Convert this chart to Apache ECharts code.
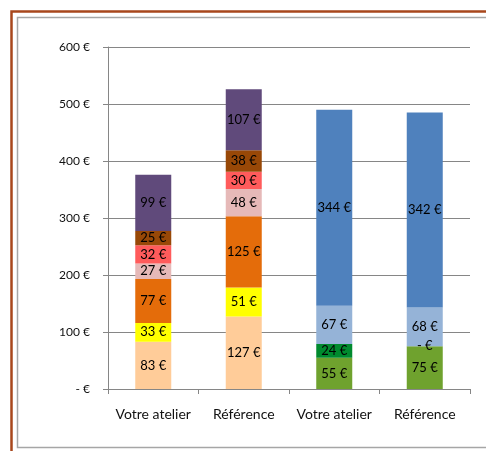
<!DOCTYPE html>
<html>
<head>
<meta charset="utf-8">
<script src="https://cdn.jsdelivr.net/npm/echarts@6/dist/echarts.min.js"></script>
<style>
  html, body { margin: 0; padding: 0; background: #fff; }
  #main { width: 486px; height: 451px; }
</style>
</head>
<body>
<div id="main"></div>
<script>
// categories
var categories = ['Votre atelier', 'Référence', 'Votre atelier', 'Référence'];
var yTicks = [0, 100, 200, 300, 400, 500, 600];

// left group (two first bars), bottom to top
var leftSeries = [
  [83, 127],
  [33, 51],
  [77, 125],
  [27, 48],
  [32, 30],
  [25, 38],
  [99, 107]
];
var leftColors = ['#FFCC99', '#FFFF00', '#E46C0A', '#E6B9B8', '#FF5B5B', '#984807', '#604A7B'];

// right group (two last bars), bottom to top
var rightSeries = [
  [55, 75],
  [24, 0],
  [67, 68],
  [344, 342]
];
var rightColors = ['#6FA22E', '#008A2E', '#95B3D7', '#4F81BD'];

var fontFam = 'Lato, "Open Sans", sans-serif';

function euro(v) {
  return v === 0 ? '- €' : v + ' €';
}

var series = [];
leftSeries.forEach(function (vals, i) {
  series.push({
    type: 'bar', stack: 'total', barWidth: 36,
    data: [vals[0], vals[1], '-', '-'],
    itemStyle: { color: leftColors[i] },
    label: {
      show: true, position: 'inside', color: '#000',
      fontFamily: fontFam, fontSize: 13,
      formatter: function (p) { return euro(p.value); }
    }
  });
});
rightSeries.forEach(function (vals, i) {
  series.push({
    type: 'bar', stack: 'total', barWidth: 36,
    data: ['-', '-', vals[0], vals[1]],
    itemStyle: { color: rightColors[i] },
    label: {
      show: true, position: 'inside', color: '#000',
      fontFamily: fontFam, fontSize: 13,
      formatter: function (p) { return euro(p.value); }
    }
  });
});

var myChart = echarts.init(document.getElementById('main'), null, { renderer: 'canvas' });

var option = {
  backgroundColor: '#fff',
  animation: false,
  graphic: [
    {
      type: 'rect', z: -10,
      shape: { x: 11.5, y: 11.5, width: 600, height: 600 },
      style: { fill: 'none', stroke: '#A8471C', lineWidth: 2.5 }
    },
    {
      type: 'rect', z: -10,
      shape: { x: 17.5, y: 17.5, width: 600, height: 430 },
      style: { fill: 'none', stroke: '#A6A6A6', lineWidth: 1.5 }
    }
  ],
  grid: { left: 108, right: 16, top: 47, bottom: 62 },
  xAxis: {
    type: 'category',
    data: categories,
    axisLine: { lineStyle: { color: '#868686' } },
    axisTick: { show: true, length: 5, alignWithLabel: false, lineStyle: { color: '#868686' } },
    axisLabel: { color: '#111', fontFamily: fontFam, fontSize: 14, margin: 18, interval: 0 }
  },
  yAxis: {
    type: 'value',
    min: yTicks[0], max: yTicks[yTicks.length - 1], interval: 100,
    axisLine: { show: true, lineStyle: { color: '#868686' } },
    axisTick: { show: true, length: 5, lineStyle: { color: '#868686' } },
    splitLine: { lineStyle: { color: '#868686' } },
    axisLabel: {
      color: '#111', fontFamily: fontFam, fontSize: 12, margin: 18,
      formatter: function (v) { return euro(v); }
    }
  },
  series: series
};

myChart.setOption(option);
</script>
</body>
</html>
